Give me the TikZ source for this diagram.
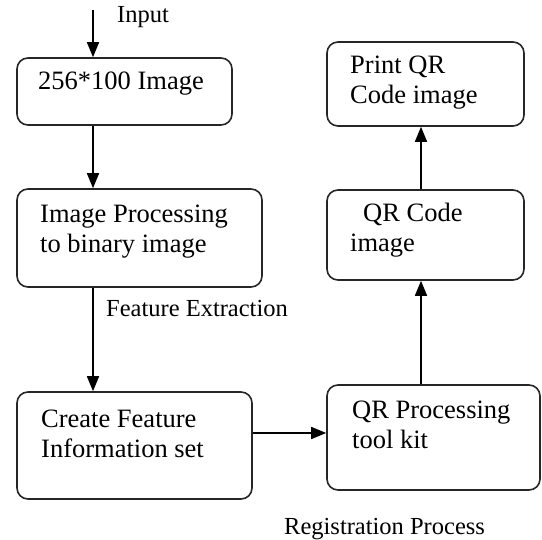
\documentclass[tikz,border=0pt]{standalone}
\usepackage{fontspec}
\setmainfont{Liberation Serif}
\usetikzlibrary{arrows.meta}
\begin{document}
\begin{tikzpicture}[x=1pt,y=-1pt,
  stepbox/.style={draw=black!85, line width=1.6pt, rounded corners=11pt, inner sep=0pt},
  boxtext/.style={anchor=base west, inner sep=0pt, align=left, font=\fontsize{26.5}{30}\selectfont},
  labeltext/.style={anchor=base west, inner sep=0pt, font=\fontsize{24.5}{28}\selectfont},
  flow/.style={draw=black, line width=1.6pt, -{Triangle[length=15pt,width=12pt]}}]
  \useasboundingbox (0,0) rectangle (542,540);

  % left column boxes
  \node[stepbox, minimum width=215pt, minimum height=67pt] (img) at (124.5,91.5) {};
  \node[stepbox, minimum width=245pt, minimum height=98pt] (proc) at (139.5,238) {};
  \node[stepbox, minimum width=235pt, minimum height=107pt] (feat) at (134.5,445.5) {};
  % right column boxes
  \node[stepbox, minimum width=213pt, minimum height=105pt] (kit) at (433.5,437.5) {};
  \node[stepbox, minimum width=197pt, minimum height=90pt] (qr) at (425.5,235) {};
  \node[stepbox, minimum width=197pt, minimum height=84pt] (print) at (425.5,84) {};

  % box texts (base anchor sits on the last line)
  \node[boxtext] (imgT) at (38,90) {256*100 Image};
  \node[boxtext] (procT) at (40,253) {Image Processing\\to binary image};
  \node[boxtext] (featT) at (41,458) {Create Feature\\Information set};
  \node[boxtext] (kitT) at (352,449) {QR Processing\\tool kit};
  \node[boxtext] (qrT) at (350,252) {\hspace{13pt}QR Code\\image};
  \node[boxtext] (printT) at (350,104) {Print QR\\Code image};

  % labels
  \node[labeltext] (inL) at (117,23) {Input};
  \node[labeltext] (feL) at (106,317) {Feature Extraction};
  \node[labeltext] (regL) at (284,535) {Registration Process};

  % connectors
  \coordinate (src) at (93,10);
  \draw[flow] (src) -- (img.north -| src);
  \draw[flow] (img.south -| src) -- (proc.north -| src);
  \draw[flow] (proc.south -| src) -- (feat.north -| src);
  \coordinate (hy) at (0,433);
  \draw[flow] (feat.east |- hy) -- (kit.west |- hy);
  \coordinate (rx) at (421,0);
  \draw[flow] (kit.north -| rx) -- (qr.south -| rx);
  \draw[flow] (qr.north -| rx) -- (print.south -| rx);
\end{tikzpicture}
\end{document}
